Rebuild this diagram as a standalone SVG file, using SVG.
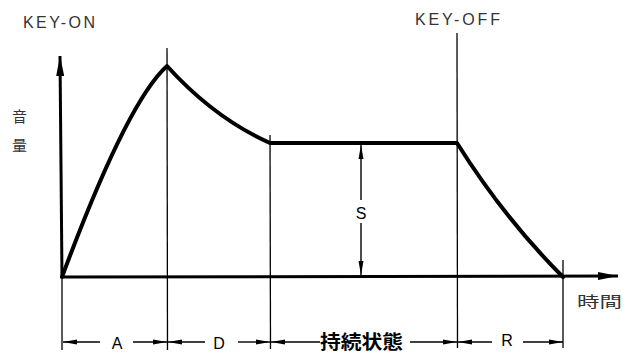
<svg xmlns="http://www.w3.org/2000/svg" width="623" height="353" viewBox="0 0 623 353">
<style>
  .env { fill: none; stroke: #000; stroke-width: 4; stroke-linejoin: round; stroke-linecap: round; }
  .axis { fill: none; stroke: #000; stroke-width: 3; }
  .thin { fill: none; stroke: #000; stroke-width: 1.3; }
  .dim { fill: none; stroke: #000; stroke-width: 1.4; }
  .lbl { font-family: "Liberation Sans", Arial, sans-serif; fill: #333; }
  .cjk { font-family: "Noto Sans CJK JP", "Noto Sans CJK SC", sans-serif; fill: #333; }
  .dl { font-family: "Liberation Sans", Arial, sans-serif; fill: #000; font-size: 16px; text-anchor: middle; }
</style>
<defs>
  <marker id="ah" viewBox="0 0 14 6" refX="14" refY="3" markerWidth="14" markerHeight="6" markerUnits="userSpaceOnUse" orient="auto">
    <path d="M0,0.5 L14,3 L0,5.5 Z" fill="#000"/>
  </marker>
  <marker id="axh" viewBox="0 0 20 8" refX="20" refY="4" markerWidth="20" markerHeight="8" markerUnits="userSpaceOnUse" orient="auto">
    <path d="M0,0 L20,4 L0,8 Z" fill="#000"/>
  </marker>
</defs>

<g id="guides">
  <line class="thin" x1="62" y1="278" x2="62" y2="350"/>
  <line class="thin" x1="167" y1="48" x2="167.5" y2="350"/>
  <line class="thin" x1="270" y1="135" x2="270.5" y2="349"/>
  <line class="thin" x1="457" y1="33" x2="457.5" y2="348"/>
  <line class="thin" x1="563" y1="260" x2="563" y2="348"/>
</g>

<g id="axes">
  <line class="axis" x1="62" y1="278" x2="60" y2="56" marker-end="url(#axh)"/>
  <line class="axis" x1="62" y1="277" x2="618" y2="276" marker-end="url(#axh)"/>
</g>

<g id="envelope">
  <path class="env" d="M62,277 Q127,102 167,66 Q214,118 270,143 L457,143 Q504,218 563,277"/>
</g>

<g id="connectors">
  <line class="dim" x1="361" y1="200" x2="361" y2="145" marker-end="url(#ah)"/>
  <line class="dim" x1="361" y1="223" x2="361" y2="275" marker-end="url(#ah)"/>
  <line class="dim" x1="100" y1="342" x2="63" y2="342" marker-end="url(#ah)"/>
  <line class="dim" x1="133" y1="342" x2="167" y2="342" marker-end="url(#ah)"/>
  <line class="dim" x1="205" y1="342" x2="168" y2="342" marker-end="url(#ah)"/>
  <line class="dim" x1="238" y1="342" x2="270" y2="342" marker-end="url(#ah)"/>
  <line class="dim" x1="320" y1="342" x2="271" y2="342" marker-end="url(#ah)"/>
  <line class="dim" x1="410" y1="342" x2="457" y2="342" marker-end="url(#ah)"/>
  <line class="dim" x1="492" y1="342" x2="458" y2="342" marker-end="url(#ah)"/>
  <line class="dim" x1="523" y1="342" x2="563" y2="342" marker-end="url(#ah)"/>
</g>

<g id="labels">
  <text class="lbl" x="23" y="28" font-size="16" textLength="72" lengthAdjust="spacing">KEY-ON</text>
  <text class="lbl" x="415" y="25" font-size="16" textLength="85" lengthAdjust="spacing">KEY-OFF</text>
  <text class="cjk" x="19.5" y="122" font-size="15" text-anchor="middle">音</text>
  <text class="cjk" x="19.5" y="151" font-size="15" text-anchor="middle">量</text>
  <text class="cjk" x="577" y="307" font-size="15" textLength="45" lengthAdjust="spacingAndGlyphs">時間</text>
  <text class="dl" x="361" y="219" font-size="17">S</text>
  <text class="dl" x="117" y="349">A</text>
  <text class="dl" x="219" y="349">D</text>
  <text class="dl" x="507" y="346">R</text>
  <text x="361.5" y="349" font-family="'Noto Sans CJK JP', 'Noto Sans CJK SC', sans-serif" font-weight="bold" font-size="19" text-anchor="middle" fill="#000" textLength="83" lengthAdjust="spacingAndGlyphs">持続状態</text>
</g>
</svg>
